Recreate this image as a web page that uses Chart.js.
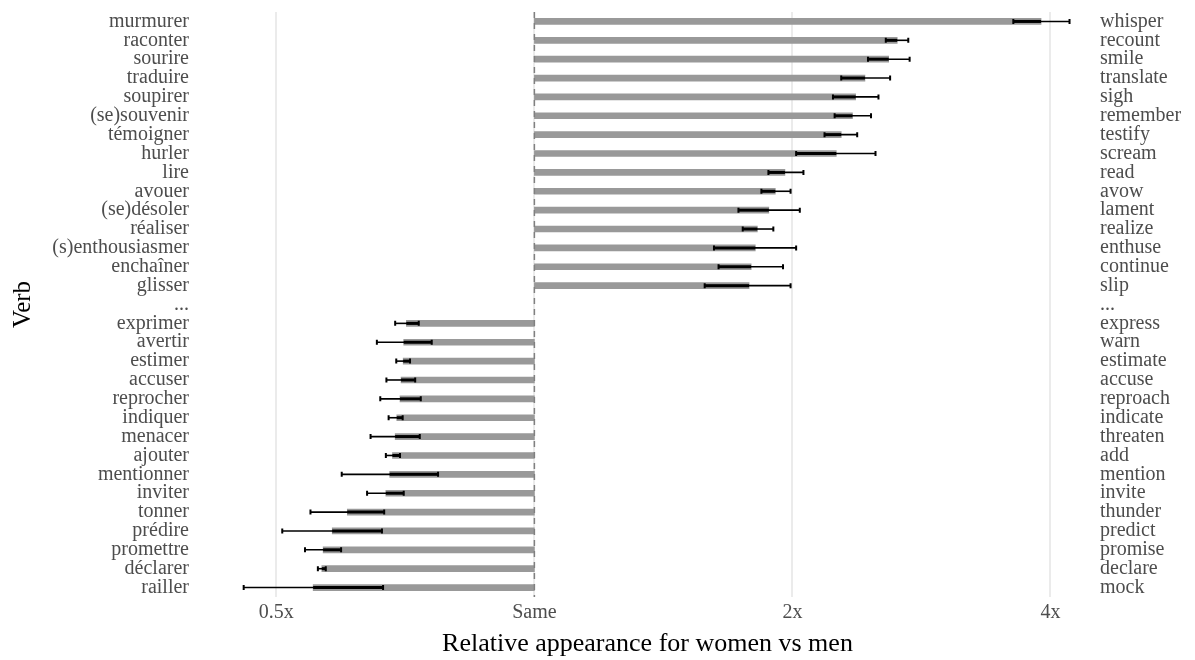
<!DOCTYPE html>
<html>
<head>
<meta charset="utf-8">
<script src="https://cdn.jsdelivr.net/npm/chart.js@4"></script>
<style>
  html, body { margin: 0; padding: 0; background: #fff; }
</style>
</head>
<body>
<canvas id="grafico" width="1195" height="660"></canvas>
<script>
// verbes (gauche) et traductions (droite)
const verbesFr = ["murmurer", "raconter", "sourire", "traduire", "soupirer", "(se)souvenir", "témoigner", "hurler",
  "lire", "avouer", "(se)désoler", "réaliser", "(s)enthousiasmer", "enchaîner", "glisser", "...",
  "exprimer", "avertir", "estimer", "accuser", "reprocher", "indiquer", "menacer", "ajouter",
  "mentionner", "inviter", "tonner", "prédire", "promettre", "déclarer", "railler"];
const verbesEn = ["whisper", "recount", "smile", "translate", "sigh", "remember", "testify", "scream",
  "read", "avow", "lament", "realize", "enthuse", "continue", "slip", "...",
  "express", "warn", "estimate", "accuse", "reproach", "indicate", "threaten", "add",
  "mention", "invite", "thunder", "predict", "promise", "declare", "mock"];

// ratio femmes / hommes
const ratio = [3.90, 2.65, 2.59, 2.43, 2.37, 2.35, 2.28, 2.25, 1.96, 1.91, 1.877, 1.82, 1.81, 1.79, 1.78, null,
  0.709, 0.704, 0.703, 0.699, 0.697, 0.691, 0.688, 0.683, 0.678, 0.671, 0.605, 0.581, 0.567, 0.565, 0.552];
const errBas = [3.62, 2.57, 2.45, 2.28, 2.23, 2.24, 2.18, 2.02, 1.875, 1.84, 1.73, 1.75, 1.62, 1.64, 1.58, null,
  0.688, 0.655, 0.690, 0.672, 0.661, 0.676, 0.644, 0.671, 0.596, 0.638, 0.548, 0.508, 0.540, 0.559, 0.458];
const errHaut = [4.21, 2.73, 2.74, 2.60, 2.52, 2.47, 2.38, 2.50, 2.06, 1.99, 2.04, 1.90, 2.02, 1.95, 1.99, null,
  0.733, 0.759, 0.716, 0.726, 0.737, 0.702, 0.735, 0.697, 0.772, 0.704, 0.668, 0.664, 0.595, 0.571, 0.666];

const xTicks = [0.5, 1, 2, 4];
const xTickLabels = ["0.5x", "Same", "2x", "4x"];

const police = "'Liberation Serif', 'DejaVu Serif', serif";
const gris = "#4d4d4d";

// barres d'erreur + ligne pointillée sur "Same"
const errorBars = {
  id: "errorBars",
  afterDatasetsDraw(chart) {
    const ctx = chart.ctx;
    const x = chart.scales.x;
    const y = chart.scales.y;
    const area = chart.chartArea;

    ctx.save();
    ctx.strokeStyle = "#000";
    for (let i = 0; i < ratio.length; i++) {
      if (ratio[i] == null) continue;
      const py = y.getPixelForValue(i);
      const x1 = x.getPixelForValue(errBas[i]);
      const x2 = x.getPixelForValue(errHaut[i]);
      const xv = x.getPixelForValue(ratio[i]);

      ctx.lineWidth = 1.6;
      ctx.beginPath();
      ctx.moveTo(x1, py); ctx.lineTo(x2, py);
      ctx.stroke();

      // partie sur la barre, plus épaisse
      ctx.lineWidth = 3;
      ctx.beginPath();
      if (ratio[i] > 1) { ctx.moveTo(x1, py); ctx.lineTo(xv, py); }
      else { ctx.moveTo(xv, py); ctx.lineTo(x2, py); }
      ctx.stroke();

      ctx.lineWidth = 2;
      ctx.beginPath();
      ctx.moveTo(x1, py - 2.5); ctx.lineTo(x1, py + 2.5);
      ctx.moveTo(x2, py - 2.5); ctx.lineTo(x2, py + 2.5);
      ctx.stroke();
    }

    const px = x.getPixelForValue(1);
    ctx.strokeStyle = "#808080";
    ctx.lineWidth = 1.5;
    ctx.setLineDash([6, 5]);
    ctx.beginPath();
    ctx.moveTo(px, area.top);
    ctx.lineTo(px, area.bottom);
    ctx.stroke();
    ctx.restore();
  }
};

// largeur fixe des axes verticaux, sans marge haute/basse
function fixeAxe(largeur) {
  return (s) => {
    s.width = largeur;
    s.paddingTop = 0;
    s.paddingBottom = 0;
  };
}

const ctx = document.getElementById("grafico");

new Chart(ctx, {
  type: "bar",
  data: {
    labels: verbesFr,
    datasets: [{
      data: ratio.map((r) => (r == null ? null : [1, r])),
      backgroundColor: "#999999",
      barThickness: 6,
      borderWidth: 0
    }]
  },
  options: {
    indexAxis: "y",
    responsive: false,
    animation: false,
    layout: { padding: { top: 12, left: 0, right: 0, bottom: 0 } },
    plugins: {
      legend: { display: false },
      tooltip: { enabled: false }
    },
    scales: {
      x: {
        type: "logarithmic",
        min: 0.4128,
        max: 4.448,
        afterBuildTicks: (s) => { s.ticks = xTicks.map((v) => ({ value: v })); },
        afterFit: (s) => { s.height = 63; s.paddingLeft = 0; s.paddingRight = 0; },
        grid: { color: "#ebebeb", lineWidth: 2, drawTicks: false },
        border: { display: false },
        ticks: {
          autoSkip: false,
          maxRotation: 0,
          padding: 4,
          color: gris,
          font: { family: police, size: 20 },
          callback: (v, i) => xTickLabels[i]
        },
        title: {
          display: true,
          text: "Relative appearance for women vs men",
          color: "#000",
          font: { family: police, size: 26 },
          padding: { top: 2, bottom: 0 }
        }
      },
      y: {
        type: "category",
        offset: true,
        afterFit: fixeAxe(205),
        grid: { display: false },
        border: { display: false },
        ticks: {
          autoSkip: false,
          padding: 8,
          color: gris,
          font: { family: police, size: 20 }
        },
        title: {
          display: true,
          text: "Verb",
          color: "#000",
          font: { family: police, size: 25 },
          padding: { top: 8, bottom: 0 }
        }
      },
      y2: {
        type: "category",
        labels: verbesEn,
        position: "right",
        offset: true,
        afterFit: fixeAxe(105),
        grid: { display: false },
        border: { display: false },
        ticks: {
          autoSkip: false,
          padding: 2,
          color: gris,
          font: { family: police, size: 20 }
        }
      }
    }
  },
  plugins: [errorBars]
});
</script>
</body>
</html>
